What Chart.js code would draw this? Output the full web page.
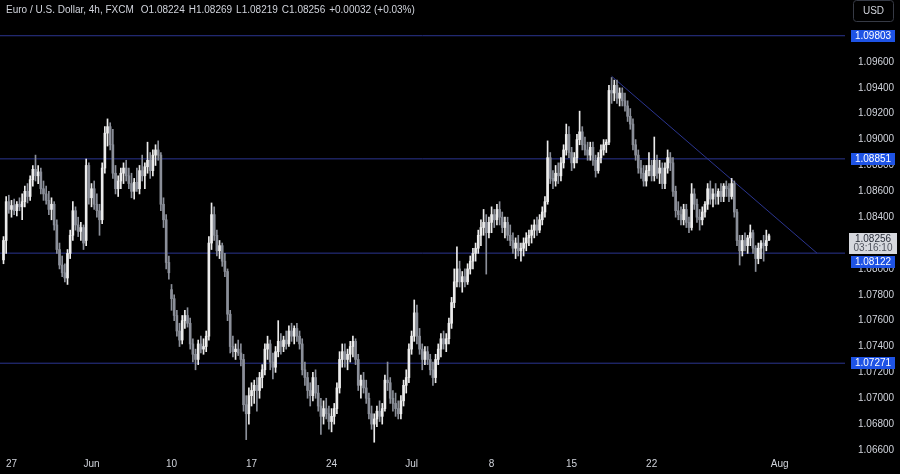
<!DOCTYPE html>
<html><head><meta charset="utf-8">
<script src="https://cdn.jsdelivr.net/npm/chart.js@4.4.1/dist/chart.umd.min.js"></script>
<style>html,body{margin:0;padding:0;background:#000;overflow:hidden}canvas{display:block}</style>
</head><body>
<canvas id="c" width="900" height="474"></canvas>
<script>
// ---- data (EUR/USD 4h candles) ----
const opens = [
1.0807,1.0822,1.0852,1.0846,1.0849,1.0845,1.0850,1.0848,1.0852,1.0860,
1.0856,1.0869,1.0877,1.0872,1.0875,1.0862,1.0858,1.0853,1.0846,1.0850,
1.0834,1.0815,1.0803,1.0797,1.0793,1.0812,1.0826,1.0845,1.0834,1.0829,
1.0832,1.0822,1.0880,1.0855,1.0862,1.0850,1.0845,1.0838,1.0878,1.0905,
1.0910,1.0896,1.0874,1.0862,1.0868,1.0874,1.0878,1.0872,1.0866,1.0860,
1.0867,1.0862,1.0876,1.0872,1.0879,1.0884,1.0876,1.0888,1.0892,1.0888,
1.0850,1.0838,1.0805,1.0784,1.0777,1.0764,1.0752,1.0745,1.0760,1.0764,
1.0758,1.0742,1.0734,1.0730,1.0742,1.0738,1.0740,1.0748,1.0820,1.0842,
1.0826,1.0814,1.0818,1.0806,1.0798,1.0765,1.0740,1.0736,1.0738,1.0735,
1.0730,1.0695,1.0688,1.0702,1.0706,1.0710,1.0706,1.0716,1.0722,1.0738,
1.0742,1.0728,1.0724,1.0736,1.0744,1.0740,1.0745,1.0742,1.0752,1.0748,
1.0754,1.0748,1.0742,1.0722,1.0716,1.0706,1.0702,1.0716,1.0704,1.0694,
1.0686,1.0692,1.0688,1.0682,1.0686,1.0692,1.0708,1.0730,1.0736,1.0730,
1.0734,1.0740,1.0744,1.0730,1.0710,1.0714,1.0708,1.0700,1.0688,1.0680,
1.0684,1.0690,1.0686,1.0692,1.0714,1.0712,1.0700,1.0696,1.0692,1.0688,
1.0698,1.0710,1.0716,1.0738,1.0748,1.0766,1.0748,1.0738,1.0730,1.0736,
1.0730,1.0722,1.0716,1.0730,1.0738,1.0746,1.0742,1.0746,1.0758,1.0774,
1.0790,1.0800,1.0790,1.0794,1.0790,1.0800,1.0806,1.0812,1.0816,1.0826,
1.0832,1.0836,1.0828,1.0836,1.0842,1.0838,1.0846,1.0840,1.0832,1.0836,
1.0826,1.0822,1.0816,1.0820,1.0814,1.0816,1.0820,1.0824,1.0826,1.0830,
1.0834,1.0830,1.0838,1.0844,1.0852,1.0886,1.0870,1.0868,1.0874,1.0872,
1.0882,1.0892,1.0904,1.0890,1.0882,1.0886,1.0900,1.0906,1.0896,1.0892,
1.0888,1.0894,1.0884,1.0876,1.0886,1.0892,1.0896,1.0898,1.0938,1.0936,
1.0942,1.0932,1.0936,1.0930,1.0926,1.0918,1.0912,1.0896,1.0888,1.0878,
1.0874,1.0868,1.0876,1.0880,1.0872,1.0884,1.0874,1.0878,1.0866,1.0878,
1.0886,1.0882,1.0860,1.0845,1.0842,1.0838,1.0846,1.0836,1.0832,1.0858,
1.0850,1.0840,1.0838,1.0844,1.0850,1.0862,1.0854,1.0858,1.0856,1.0860,
1.0856,1.0864,1.0862,1.0856,1.0866,1.0844,1.0822,1.0814,1.0822,1.0818,
1.0824,1.0828,1.0816,1.0808,1.0816,1.0820,1.0818,1.08224];
const highs = [
1.0825,1.0856,1.0857,1.0853,1.0854,1.0852,1.0855,1.0858,1.0864,1.0866,
1.0872,1.0880,1.0888,1.0880,1.0878,1.0868,1.0864,1.0860,1.0855,1.0852,
1.0838,1.0820,1.0810,1.0804,1.0815,1.0830,1.0852,1.0848,1.0840,1.0836,
1.0834,1.0885,1.0882,1.0866,1.0868,1.0858,1.0850,1.0882,1.0910,1.0916,
1.0913,1.0908,1.0880,1.0872,1.0878,1.0882,1.0884,1.0878,1.0874,1.0870,
1.0878,1.0880,1.0888,1.0882,1.0898,1.0890,1.0892,1.0896,1.0899,1.0890,
1.0855,1.0842,1.0810,1.0788,1.0780,1.0768,1.0758,1.0764,1.0768,1.0770,
1.0762,1.0746,1.0738,1.0745,1.0748,1.0746,1.0752,1.0825,1.0851,1.0848,
1.0830,1.0822,1.0820,1.0812,1.0800,1.0768,1.0748,1.0742,1.0745,1.0742,
1.0734,1.0702,1.0708,1.0712,1.0714,1.0716,1.0720,1.0726,1.0742,1.0748,
1.0745,1.0735,1.0740,1.0760,1.0750,1.0748,1.0752,1.0756,1.0758,1.0756,
1.0758,1.0752,1.0746,1.0728,1.0720,1.0712,1.0720,1.0722,1.0710,1.0700,
1.0698,1.0700,1.0694,1.0692,1.0696,1.0712,1.0736,1.0742,1.0742,1.0738,
1.0744,1.0748,1.0746,1.0734,1.0718,1.0720,1.0714,1.0704,1.0694,1.0688,
1.0694,1.0698,1.0696,1.0718,1.0728,1.0716,1.0706,1.0704,1.0698,1.0702,
1.0714,1.0722,1.0742,1.0752,1.0776,1.0772,1.0754,1.0742,1.0740,1.0740,
1.0734,1.0728,1.0734,1.0742,1.0750,1.0752,1.0750,1.0762,1.0778,1.0800,
1.0817,1.0806,1.0798,1.0800,1.0804,1.0810,1.0816,1.0820,1.0830,1.0838,
1.0846,1.0842,1.0840,1.0848,1.0846,1.0850,1.0852,1.0844,1.0840,1.0840,
1.0834,1.0828,1.0824,1.0826,1.0820,1.0824,1.0828,1.0830,1.0834,1.0838,
1.0840,1.0842,1.0848,1.0856,1.0899,1.0890,1.0876,1.0880,1.0882,1.0886,
1.0896,1.0912,1.0910,1.0894,1.0890,1.0904,1.0922,1.0910,1.0902,1.0898,
1.0898,1.0898,1.0888,1.0890,1.0896,1.0900,1.0900,1.0942,1.0948,1.0946,
1.0946,1.0940,1.0940,1.0936,1.0930,1.0924,1.0916,1.0900,1.0892,1.0884,
1.0880,1.0880,1.0890,1.0884,1.0902,1.0888,1.0884,1.0882,1.0882,1.0892,
1.0890,1.0886,1.0864,1.0852,1.0848,1.0850,1.0850,1.0840,1.0866,1.0862,
1.0854,1.0846,1.0848,1.0852,1.0866,1.0868,1.0862,1.0866,1.0862,1.0866,
1.0866,1.0868,1.0866,1.0870,1.0868,1.0846,1.0826,1.0826,1.0828,1.0826,
1.0834,1.0830,1.0818,1.0820,1.0822,1.0826,1.0830,1.08269];
const lows = [
1.0804,1.0812,1.0843,1.0840,1.0842,1.0841,1.0845,1.0838,1.0848,1.0851,
1.0853,1.0864,1.0868,1.0866,1.0858,1.0853,1.0850,1.0842,1.0838,1.0830,
1.0812,1.0800,1.0794,1.0790,1.0788,1.0808,1.0822,1.0830,1.0825,1.0822,
1.0815,1.0818,1.0850,1.0848,1.0846,1.0840,1.0826,1.0835,1.0874,1.0895,
1.0892,1.0870,1.0858,1.0856,1.0862,1.0866,1.0868,1.0862,1.0855,1.0854,
1.0860,1.0858,1.0868,1.0862,1.0874,1.0870,1.0872,1.0880,1.0884,1.0845,
1.0832,1.0800,1.0792,1.0768,1.0760,1.0748,1.0740,1.0742,1.0754,1.0755,
1.0738,1.0728,1.0722,1.0726,1.0735,1.0734,1.0736,1.0745,1.0815,1.0822,
1.0810,1.0808,1.0802,1.0794,1.0760,1.0735,1.0732,1.0730,1.0733,1.0725,
1.0690,1.0668,1.0680,1.0694,1.0696,1.0690,1.0700,1.0708,1.0718,1.0730,
1.0722,1.0715,1.0720,1.0732,1.0734,1.0736,1.0738,1.0740,1.0744,1.0742,
1.0744,1.0738,1.0718,1.0710,1.0700,1.0694,1.0698,1.0700,1.0690,1.0672,
1.0680,1.0684,1.0676,1.0674,1.0680,1.0688,1.0704,1.0724,1.0724,1.0722,
1.0728,1.0732,1.0726,1.0706,1.0700,1.0704,1.0696,1.0684,1.0676,1.0666,
1.0678,1.0682,1.0680,1.0690,1.0706,1.0696,1.0690,1.0686,1.0684,1.0684,
1.0694,1.0704,1.0712,1.0734,1.0744,1.0742,1.0734,1.0722,1.0726,1.0726,
1.0718,1.0710,1.0712,1.0726,1.0732,1.0738,1.0736,1.0742,1.0754,1.0770,
1.0786,1.0786,1.0782,1.0786,1.0788,1.0796,1.0800,1.0806,1.0812,1.0818,
1.0826,1.0796,1.0824,1.0828,1.0832,1.0834,1.0834,1.0828,1.0824,1.0822,
1.0818,1.0812,1.0808,1.0810,1.0806,1.0810,1.0814,1.0818,1.0820,1.0824,
1.0826,1.0828,1.0834,1.0840,1.0850,1.0866,1.0862,1.0864,1.0866,1.0868,
1.0878,1.0888,1.0886,1.0876,1.0878,1.0882,1.0896,1.0892,1.0888,1.0884,
1.0884,1.0880,1.0871,1.0874,1.0882,1.0888,1.0890,1.0896,1.0928,1.0930,
1.0928,1.0926,1.0926,1.0922,1.0914,1.0908,1.0892,1.0884,1.0874,1.0870,
1.0864,1.0864,1.0872,1.0868,1.0868,1.0870,1.0866,1.0862,1.0862,1.0874,
1.0876,1.0856,1.0840,1.0838,1.0834,1.0834,1.0832,1.0828,1.0830,1.0846,
1.0836,1.0830,1.0834,1.0840,1.0846,1.0850,1.0848,1.0850,1.0850,1.0852,
1.0852,1.0856,1.0852,1.0854,1.0840,1.0818,1.0803,1.0810,1.0814,1.0812,
1.0818,1.0812,1.0798,1.0804,1.0808,1.0806,1.0814,1.08219];
const closes = [
1.0822,1.0852,1.0846,1.0849,1.0845,1.0850,1.0848,1.0852,1.0860,1.0856,
1.0869,1.0877,1.0872,1.0875,1.0862,1.0858,1.0853,1.0846,1.0850,1.0834,
1.0815,1.0803,1.0797,1.0793,1.0812,1.0826,1.0845,1.0834,1.0829,1.0832,
1.0820,1.0880,1.0855,1.0862,1.0850,1.0845,1.0838,1.0878,1.0905,1.0910,
1.0896,1.0874,1.0862,1.0868,1.0874,1.0878,1.0872,1.0866,1.0860,1.0867,
1.0862,1.0876,1.0872,1.0879,1.0884,1.0876,1.0888,1.0892,1.0888,1.0850,
1.0838,1.0805,1.0797,1.0777,1.0764,1.0752,1.0745,1.0760,1.0764,1.0758,
1.0742,1.0734,1.0730,1.0742,1.0738,1.0740,1.0748,1.0820,1.0842,1.0826,
1.0814,1.0818,1.0806,1.0798,1.0765,1.0740,1.0736,1.0738,1.0735,1.0730,
1.0695,1.0688,1.0702,1.0706,1.0710,1.0706,1.0716,1.0722,1.0738,1.0742,
1.0728,1.0724,1.0736,1.0744,1.0740,1.0745,1.0742,1.0752,1.0748,1.0754,
1.0748,1.0742,1.0722,1.0716,1.0706,1.0702,1.0716,1.0704,1.0694,1.0686,
1.0692,1.0688,1.0682,1.0686,1.0692,1.0708,1.0730,1.0736,1.0730,1.0734,
1.0740,1.0744,1.0730,1.0710,1.0714,1.0708,1.0700,1.0688,1.0680,1.0684,
1.0690,1.0686,1.0692,1.0714,1.0712,1.0700,1.0696,1.0692,1.0688,1.0698,
1.0710,1.0716,1.0738,1.0748,1.0766,1.0748,1.0738,1.0730,1.0736,1.0730,
1.0722,1.0716,1.0730,1.0738,1.0746,1.0742,1.0746,1.0758,1.0774,1.0790,
1.0800,1.0790,1.0794,1.0790,1.0800,1.0806,1.0812,1.0816,1.0826,1.0832,
1.0836,1.0828,1.0836,1.0842,1.0838,1.0846,1.0840,1.0832,1.0836,1.0826,
1.0822,1.0816,1.0820,1.0814,1.0816,1.0820,1.0824,1.0826,1.0830,1.0834,
1.0830,1.0838,1.0844,1.0852,1.0886,1.0870,1.0868,1.0874,1.0872,1.0882,
1.0892,1.0904,1.0890,1.0882,1.0886,1.0900,1.0906,1.0896,1.0892,1.0888,
1.0894,1.0884,1.0876,1.0886,1.0892,1.0896,1.0898,1.0938,1.0936,1.0942,
1.0932,1.0936,1.0930,1.0926,1.0918,1.0912,1.0896,1.0888,1.0878,1.0874,
1.0868,1.0876,1.0880,1.0872,1.0884,1.0874,1.0878,1.0866,1.0878,1.0886,
1.0882,1.0860,1.0845,1.0842,1.0838,1.0846,1.0836,1.0832,1.0858,1.0850,
1.0840,1.0838,1.0844,1.0850,1.0862,1.0854,1.0858,1.0856,1.0860,1.0856,
1.0864,1.0862,1.0856,1.0866,1.0844,1.0822,1.0814,1.0822,1.0818,1.0824,
1.0828,1.0816,1.0808,1.0816,1.0820,1.0818,1.0822,1.08256];

const priceTicks = [1.066,1.068,1.070,1.072,1.074,1.076,1.078,1.080,1.082,1.084,1.086,1.088,1.090,1.092,1.094,1.096];
const timeTickBars = [3,33,63,93,123,153,183,213,243,291];
const timeTickLabels = ['27','Jun','10','17','24','Jul','8','15','22','Aug'];
const levels = [1.09803,1.08851,1.08122,1.07271];
const trendBars = [228,305];
const trendPrices = [1.0949,1.08122];
const lastPrice = 1.08256;
const countdown = '03:16:10';
const titleText = 'Euro / U.S. Dollar, 4h, FXCM';
const ohlcTexts = ['O1.08224','H1.08269','L1.08219','C1.08256','+0.00032 (+0.03%)'];

// ---- styling ----
const UP = '#ececec', DOWN = '#8b8f99', LEVEL = '#2b3590';
const FONT = '"Liberation Sans", Arial, sans-serif';
const X_MIN = -1.31, X_MAX = 315.5;
const Y_MIN = 1.065612, Y_MAX = 1.100794;

const n = opens.length;
const idx = Array.from({length:n}, (_, i) => i);
const isUp = i => closes[i] >= opens[i];
const candleColor = c => isUp(c.dataIndex) ? UP : DOWN;

const datasets = [
  { type:'bar', label:'wicks', data: idx.map(i => ({x:i, y:[lows[i], highs[i]]})),
    backgroundColor: candleColor, barThickness:1, grouped:false, order:1, borderWidth:0 },
  { type:'bar', label:'bodies', data: idx.map(i => ({x:i, y:[opens[i], closes[i]]})),
    backgroundColor: candleColor, barThickness:2, grouped:false, order:1, borderWidth:0, minBarLength:1 },
  ...levels.map(l => ({ type:'line', data:[{x:X_MIN,y:l},{x:X_MAX,y:l}], borderColor:LEVEL, borderWidth:1, pointRadius:0, order:2 })),
  { type:'line', data:[{x:trendBars[0], y:trendPrices[0]},{x:trendBars[1], y:trendPrices[1]}], borderColor:LEVEL, borderWidth:1, pointRadius:0, order:2 }
];

const overlay = {
  id:'overlay',
  afterDraw(chart){
    const {ctx, scales:{y}} = chart;
    ctx.save();
    // title line
    ctx.font = '10px ' + FONT;
    ctx.textBaseline = 'middle'; ctx.textAlign = 'left'; ctx.fillStyle = '#d1d4dc';
    let tx = 6;
    ctx.fillText(titleText, tx, 10);
    tx += ctx.measureText(titleText).width + 7;
    ohlcTexts.forEach(t => { ctx.fillText(t, tx, 10); tx += ctx.measureText(t).width + 4; });
    // USD box
    ctx.strokeStyle = '#363a45'; ctx.lineWidth = 1;
    ctx.beginPath(); ctx.roundRect(853.5, 0.5, 40, 21, 3); ctx.stroke();
    ctx.textAlign = 'center'; ctx.fillStyle = '#d1d4dc';
    ctx.fillText('USD', 873.5, 11);
    // last price label
    const py = y.getPixelForValue(lastPrice);
    const cTop = Math.round(py - 3), cBot = cTop + 21;
    // level labels
    levels.forEach(l => {
      let ly = Math.round(y.getPixelForValue(l));
      let top = ly - 6;
      if (top < cBot + 2 && top + 12 > cTop) top = cBot + 2;
      ctx.fillStyle = '#1e53e5';
      ctx.fillRect(851, top, 44, 12);
      ctx.fillStyle = '#ffffff';
      ctx.fillText(l.toFixed(5), 873, top + 6.5);
    });
    ctx.fillStyle = '#d6d8de';
    ctx.fillRect(849, cTop, 48, 21);
    ctx.fillStyle = '#2a2e39';
    ctx.fillText(lastPrice.toFixed(5), 873, cTop + 6);
    ctx.fillStyle = '#50535e';
    ctx.fillText(countdown, 873, cTop + 15.5);
    ctx.restore();
  }
};

new Chart(document.getElementById('c'), {
  type:'bar',
  data:{ datasets },
  options:{
    responsive:false, animation:false, devicePixelRatio:1, events:[],
    layout:{ padding:0, autoPadding:false },
    plugins:{ legend:{display:false}, tooltip:{enabled:false} },
    scales:{
      x:{ type:'linear', min:X_MIN, max:X_MAX, offset:false,
          grid:{display:false, drawTicks:false}, border:{display:false},
          afterBuildTicks: ax => { ax.ticks = timeTickBars.map(v => ({value:v})); },
          afterFit: s => { s.height = 19; s.paddingLeft = 0; s.paddingRight = 0; },
          ticks:{ autoSkip:false, maxRotation:0, color:'#d1d4dc', padding:3,
                  font:{family:FONT, size:10}, callback:(v, i) => timeTickLabels[i] } },
      y:{ type:'linear', position:'right', min:Y_MIN, max:Y_MAX,
          grid:{display:false, drawTicks:false}, border:{display:false},
          afterBuildTicks: ax => { ax.ticks = priceTicks.map(v => ({value:v})); },
          afterFit: s => { s.width = 55; s.paddingTop = 0; s.paddingBottom = 0; },
          ticks:{ color:'#d1d4dc', padding:13, crossAlign:'center',
                  font:{family:FONT, size:10}, callback: v => v.toFixed(5) } }
    }
  },
  plugins:[overlay]
});
</script>
</body></html>
